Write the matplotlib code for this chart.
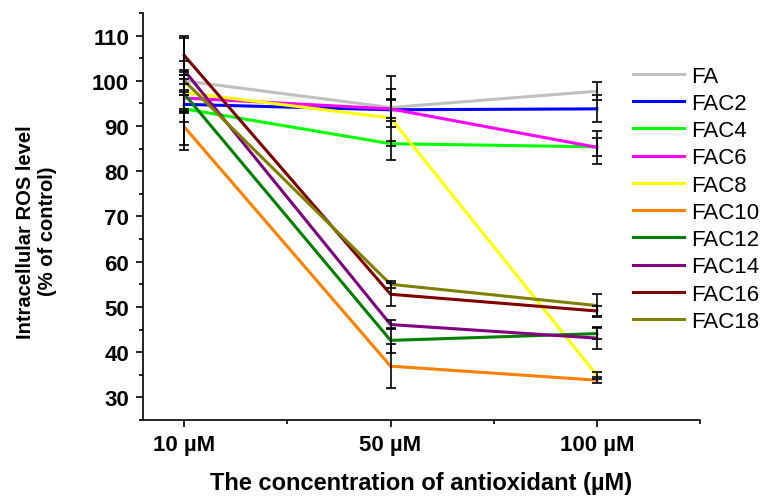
import numpy as np
import matplotlib
matplotlib.use("Agg")
import matplotlib.pyplot as plt
from matplotlib.ticker import MultipleLocator

plt.rcParams['font.family'] = ['Liberation Sans', 'DejaVu Sans']

# data
conc = ['10 µM', '50 µM', '100 µM']
names = ['FA', 'FAC2', 'FAC4', 'FAC6', 'FAC8', 'FAC10', 'FAC12', 'FAC14', 'FAC16', 'FAC18']
colors = ['#C0C0C0', '#0000FF', '#00FF00', '#FF00FF', '#FFFF00',
          '#FF8000', '#008000', '#800080', '#800000', '#808000']

fa = [100.0, 94.1, 97.7]
fac2 = [94.8, 93.6, 93.8]
fac4 = [93.8, 86.1, 85.4]
fac6 = [96.2, 93.8, 85.3]
fac8 = [97.4, 91.8, 34.9]
fac10 = [89.8, 36.9, 33.8]
fac12 = [97.1, 42.6, 44.1]
fac14 = [102.3, 46.1, 43.1]
fac16 = [105.6, 52.8, 49.1]
fac18 = [100.0, 55.0, 50.3]

fa_err = [2.0, 4.2, 2.0]
fac2_err = [2.0, 2.4, 3.0]
fac4_err = [3.0, 0.5, 2.0]
fac6_err = [3.0, 2.0, 3.7]
fac8_err = [4.0, 9.3, 0.8]
fac10_err = [4.0, 4.8, 0.7]
fac12_err = [12.3, 2.8, 1.2]
fac14_err = [2.0, 1.0, 2.5]
fac16_err = [4.3, 2.6, 1.0]
fac18_err = [2.5, 0.8, 2.6]

series = [fa, fac2, fac4, fac6, fac8, fac10, fac12, fac14, fac16, fac18]
errors = [fa_err, fac2_err, fac4_err, fac6_err, fac8_err,
          fac10_err, fac12_err, fac14_err, fac16_err, fac18_err]

fig = plt.figure(figsize=(7.62, 5.02), dpi=100)
ax = fig.add_axes([0.1877, 0.1614, 0.7309, 0.8107])

x = np.arange(len(conc))
lines = []
for vals, c, name in zip(series, colors, names):
    l, = ax.plot(x, vals, color=c, lw=2.2, label=name, zorder=2)
    lines.append(l)
for vals, err in zip(series, errors):
    ax.errorbar(x, vals, yerr=err, fmt='none', ecolor='black',
                elinewidth=1.2, capsize=3.8, capthick=1.2, zorder=3)

ax.set_xlim(-0.2, 2.5)
ax.set_ylim(25, 115)
ax.set_xticks(x)
ax.set_xticklabels(conc)
ax.xaxis.set_minor_locator(MultipleLocator(0.5))
ax.yaxis.set_minor_locator(MultipleLocator(5))
ax.set_yticks(range(30, 111, 10))

for s in ['top', 'right']:
    ax.spines[s].set_visible(False)
for s in ['left', 'bottom']:
    ax.spines[s].set_linewidth(1.2)

ax.tick_params(which='major', direction='out', length=5, width=1.2, labelsize=16, pad=5)
ax.tick_params(which='minor', direction='out', length=3, width=1.2)
for lab in ax.get_xticklabels() + ax.get_yticklabels():
    lab.set_fontweight('bold')

ax.set_xlabel('The concentration of antioxidant (µM)', fontsize=17, fontweight='bold')
ax.set_ylabel('Intracellular ROS level\n(% of control)', fontsize=14.5, fontweight='bold')
ax.xaxis.set_label_coords(0.5, -0.125)
ax.yaxis.set_label_coords(-0.155, 0.465)

fig.legend(handles=lines, loc='upper left', bbox_to_anchor=(0.831, 0.867),
           frameon=False, fontsize=16, handlelength=2.27, handletextpad=0.32,
           labelspacing=0.28, borderpad=0, borderaxespad=0)

fig.savefig('out.png', dpi=100)
